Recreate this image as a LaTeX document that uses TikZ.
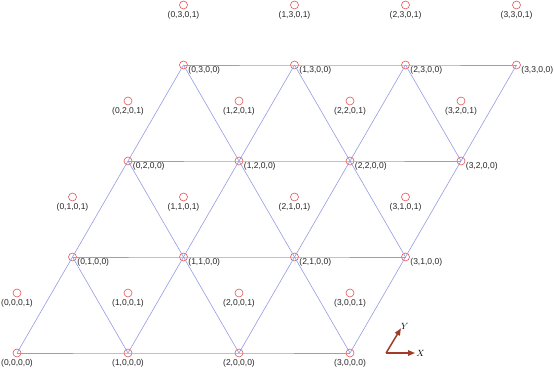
\documentclass[tikz,border=0pt]{standalone}
\usepackage{fontspec}
\setmainfont{Liberation Sans}
\usepackage{tikz}
\usetikzlibrary{arrows.meta, positioning}

\definecolor{bondcol}{RGB}{150,155,225}
\definecolor{ringcol}{RGB}{225,85,85}
\definecolor{axcol}{RGB}{160,60,40}

\begin{document}
\begin{tikzpicture}[
  x=111pt, y=96pt,
  site/.style  = {circle, draw=ringcol, line width=0.6pt, minimum size=8pt, inner sep=0pt},
  lbl/.style   = {font=\fontsize{8.5}{10}\selectfont, inner sep=1pt, text=black!85},
  blbl/.style  = {lbl, label distance=1pt},
  rlbl/.style  = {lbl, anchor=west, yshift=-3pt},
  bond/.style  = {draw=bondcol, line width=0.6pt},
  axarr/.style = {-{Triangle[length=7pt,width=5.5pt]}, line width=1.5pt, draw=axcol},
  axlbl/.style = {font=\small, inner sep=1pt}
]
\useasboundingbox (-17pt,-16pt) rectangle (537pt,353pt);

%% ── Row 0 sites ──────────────────────────────────────────────────────────────
\node[site, label={[blbl]below:{(0,0,0,0)}}] (s00) at (0,0)   {};
\node[site, label={[blbl]below:{(1,0,0,0)}}] (s10) at (1,0)   {};
\node[site, label={[blbl]below:{(2,0,0,0)}}] (s20) at (2,0)   {};
\node[site, label={[blbl]below:{(3,0,0,0)}}] (s30) at (3,0)   {};

%% ── Row 1 sites ──────────────────────────────────────────────────────────────
\node[site, label={[rlbl]-30:{(0,1,0,0)}}] (s01) at (0.5,1) {};
\node[site, label={[rlbl]-30:{(1,1,0,0)}}] (s11) at (1.5,1) {};
\node[site, label={[rlbl]-30:{(2,1,0,0)}}] (s21) at (2.5,1) {};
\node[site, label={[rlbl]-30:{(3,1,0,0)}}] (s31) at (3.5,1) {};

%% ── Row 2 sites ──────────────────────────────────────────────────────────────
\node[site, label={[rlbl]-30:{(0,2,0,0)}}] (s02) at (1,2)   {};
\node[site, label={[rlbl]-30:{(1,2,0,0)}}] (s12) at (2,2)   {};
\node[site, label={[rlbl]-30:{(2,2,0,0)}}] (s22) at (3,2)   {};
\node[site, label={[rlbl]-30:{(3,2,0,0)}}] (s32) at (4,2)   {};

%% ── Row 3 sites ──────────────────────────────────────────────────────────────
\node[site, label={[rlbl]-30:{(0,3,0,0)}}] (s03) at (1.5,3) {};
\node[site, label={[rlbl]-30:{(1,3,0,0)}}] (s13) at (2.5,3) {};
\node[site, label={[rlbl]-30:{(2,3,0,0)}}] (s23) at (3.5,3) {};
\node[site, label={[rlbl]-30:{(3,3,0,0)}}] (s33) at (4.5,3) {};

%% ── Second sublattice (…,0,1) ────────────────────────────────────────────────
\node[site, label={[blbl]below:{(0,0,0,1)}}] (c00) at (0,0.625)   {};
\node[site, label={[blbl]below:{(1,0,0,1)}}] (c10) at (1,0.625)   {};
\node[site, label={[blbl]below:{(2,0,0,1)}}] (c20) at (2,0.625)   {};
\node[site, label={[blbl]below:{(3,0,0,1)}}] (c30) at (3,0.625)   {};
\node[site, label={[blbl]below:{(0,1,0,1)}}] (c01) at (0.5,1.625) {};
\node[site, label={[blbl]below:{(1,1,0,1)}}] (c11) at (1.5,1.625) {};
\node[site, label={[blbl]below:{(2,1,0,1)}}] (c21) at (2.5,1.625) {};
\node[site, label={[blbl]below:{(3,1,0,1)}}] (c31) at (3.5,1.625) {};
\node[site, label={[blbl]below:{(0,2,0,1)}}] (c02) at (1,2.625)   {};
\node[site, label={[blbl]below:{(1,2,0,1)}}] (c12) at (2,2.625)   {};
\node[site, label={[blbl]below:{(2,2,0,1)}}] (c22) at (3,2.625)   {};
\node[site, label={[blbl]below:{(3,2,0,1)}}] (c32) at (4,2.625)   {};
\node[site, label={[blbl]below:{(0,3,0,1)}}] (c03) at (1.5,3.625) {};
\node[site, label={[blbl]below:{(1,3,0,1)}}] (c13) at (2.5,3.625) {};
\node[site, label={[blbl]below:{(2,3,0,1)}}] (c23) at (3.5,3.625) {};
\node[site, label={[blbl]below:{(3,3,0,1)}}] (c33) at (4.5,3.625) {};

%% ── Horizontal bonds ─────────────────────────────────────────────────────────
\draw[bond] (s00.center) -- (s10.center) -- (s20.center) -- (s30.center);
\draw[bond] (s01.center) -- (s11.center) -- (s21.center) -- (s31.center);
\draw[bond] (s02.center) -- (s12.center) -- (s22.center) -- (s32.center);
\draw[bond] (s03.center) -- (s13.center) -- (s23.center) -- (s33.center);

%% ── Diagonal bonds ───────────────────────────────────────────────────────────
\draw[bond] (s00.center) -- (s01.center) -- (s02.center) -- (s03.center);
\draw[bond] (s10.center) -- (s11.center) -- (s12.center) -- (s13.center);
\draw[bond] (s20.center) -- (s21.center) -- (s22.center) -- (s23.center);
\draw[bond] (s30.center) -- (s31.center) -- (s32.center) -- (s33.center);

%% ── Anti-diagonal bonds ──────────────────────────────────────────────────────
\draw[bond] (s10.center) -- (s01.center);
\draw[bond] (s20.center) -- (s11.center) -- (s02.center);
\draw[bond] (s30.center) -- (s21.center) -- (s12.center) -- (s03.center);
\draw[bond] (s31.center) -- (s22.center) -- (s13.center);
\draw[bond] (s32.center) -- (s23.center);

%% ── Axes ─────────────────────────────────────────────────────────────────────
\coordinate (ax)  at (3.325,0);
\coordinate (axX) at (3.586,0);
\coordinate (axY) at (3.459,0.257);
\draw[axarr] (ax) -- (axX);
\draw[axarr] (ax) -- (axY);
\node[axlbl, right=0pt of axX]                 (lX) {$X$};
\node[axlbl, above right=-2pt and -1pt of axY] (lY) {$Y$};

\end{tikzpicture}
\end{document}
